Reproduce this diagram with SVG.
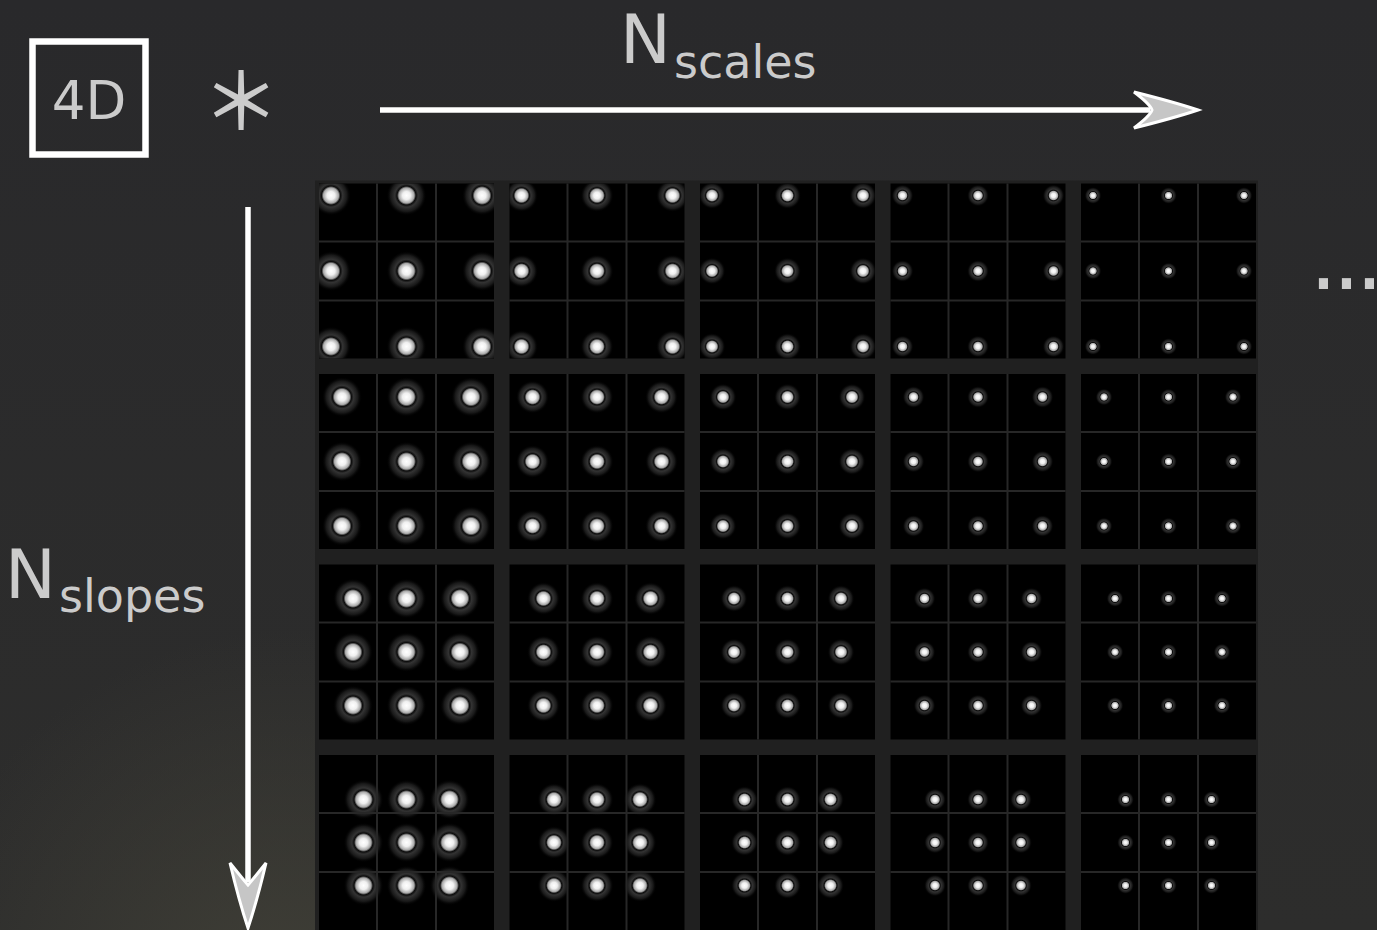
<svg xmlns="http://www.w3.org/2000/svg" width="1377" height="930" viewBox="0 0 1377 930">
<style>
.lbl{font-family:"DejaVu Sans","Liberation Sans",sans-serif;fill:#cbcbcb}
.ax{stroke:#ffffff;stroke-width:5.5;fill:none}
.ah{fill:#c6c6c6;stroke:#ffffff;stroke-width:3;stroke-linejoin:miter}
</style>
<defs>
<linearGradient id="bg" x1="0" y1="0" x2="0" y2="1">
<stop offset="0" stop-color="#29292b"/>
<stop offset="1" stop-color="#2d2d2c"/>
</linearGradient>
<radialGradient id="glow" cx="290" cy="1010" r="380" gradientUnits="userSpaceOnUse">
<stop offset="0" stop-color="#45443a" stop-opacity="0.8"/>
<stop offset="1" stop-color="#45443a" stop-opacity="0"/>
</radialGradient>
<radialGradient id="g1"><stop offset="0" stop-color="#fff"/><stop offset="0.2" stop-color="#f0f0f0"/><stop offset="0.38" stop-color="#a8a8a8"/><stop offset="0.47" stop-color="#0c0c0c"/><stop offset="0.58" stop-color="#333"/><stop offset="0.8" stop-color="#181818"/><stop offset="1" stop-color="#000" stop-opacity="0"/></radialGradient>
<radialGradient id="g2"><stop offset="0" stop-color="#fff"/><stop offset="0.165" stop-color="#f0f0f0"/><stop offset="0.3135" stop-color="#a8a8a8"/><stop offset="0.388" stop-color="#0c0c0c"/><stop offset="0.4785" stop-color="#333"/><stop offset="0.66" stop-color="#181818"/><stop offset="0.825" stop-color="#000" stop-opacity="0"/></radialGradient>
<radialGradient id="g3"><stop offset="0" stop-color="#fff"/><stop offset="0.135" stop-color="#f0f0f0"/><stop offset="0.2565" stop-color="#a8a8a8"/><stop offset="0.317" stop-color="#0c0c0c"/><stop offset="0.3915" stop-color="#333"/><stop offset="0.54" stop-color="#181818"/><stop offset="0.675" stop-color="#000" stop-opacity="0"/></radialGradient>
<radialGradient id="g4"><stop offset="0" stop-color="#fff"/><stop offset="0.11" stop-color="#f0f0f0"/><stop offset="0.209" stop-color="#a8a8a8"/><stop offset="0.2585" stop-color="#0c0c0c"/><stop offset="0.319" stop-color="#333"/><stop offset="0.44" stop-color="#181818"/><stop offset="0.55" stop-color="#000" stop-opacity="0"/></radialGradient>
<radialGradient id="g5"><stop offset="0" stop-color="#fff"/><stop offset="0.085" stop-color="#f0f0f0"/><stop offset="0.1615" stop-color="#a8a8a8"/><stop offset="0.2" stop-color="#0c0c0c"/><stop offset="0.2465" stop-color="#333"/><stop offset="0.34" stop-color="#181818"/><stop offset="0.425" stop-color="#000" stop-opacity="0"/></radialGradient>
<clipPath id="blocks">
<rect x="319" y="183.5" width="175" height="175"/><rect x="509.5" y="183.5" width="175" height="175"/><rect x="700" y="183.5" width="175" height="175"/><rect x="890.5" y="183.5" width="175" height="175"/><rect x="1081" y="183.5" width="175" height="175"/>
<rect x="319" y="374" width="175" height="175"/><rect x="509.5" y="374" width="175" height="175"/><rect x="700" y="374" width="175" height="175"/><rect x="890.5" y="374" width="175" height="175"/><rect x="1081" y="374" width="175" height="175"/>
<rect x="319" y="564.5" width="175" height="175"/><rect x="509.5" y="564.5" width="175" height="175"/><rect x="700" y="564.5" width="175" height="175"/><rect x="890.5" y="564.5" width="175" height="175"/><rect x="1081" y="564.5" width="175" height="175"/>
<rect x="319" y="755" width="175" height="175"/><rect x="509.5" y="755" width="175" height="175"/><rect x="700" y="755" width="175" height="175"/><rect x="890.5" y="755" width="175" height="175"/><rect x="1081" y="755" width="175" height="175"/>
</clipPath>
<g id="R1"><circle cx="-75.5" cy="-75.5" r="20"/><circle cx="0" cy="-75.5" r="20"/><circle cx="75.5" cy="-75.5" r="20"/><circle cx="-75.5" cy="0" r="20"/><circle cx="0" cy="0" r="20"/><circle cx="75.5" cy="0" r="20"/><circle cx="-75.5" cy="75.5" r="20"/><circle cx="0" cy="75.5" r="20"/><circle cx="75.5" cy="75.5" r="20"/></g>
<g id="R2"><circle cx="-64.5" cy="-64.5" r="20"/><circle cx="0" cy="-64.5" r="20"/><circle cx="64.5" cy="-64.5" r="20"/><circle cx="-64.5" cy="0" r="20"/><circle cx="0" cy="0" r="20"/><circle cx="64.5" cy="0" r="20"/><circle cx="-64.5" cy="64.5" r="20"/><circle cx="0" cy="64.5" r="20"/><circle cx="64.5" cy="64.5" r="20"/></g>
<g id="R3"><circle cx="-53.5" cy="-53.5" r="20"/><circle cx="0" cy="-53.5" r="20"/><circle cx="53.5" cy="-53.5" r="20"/><circle cx="-53.5" cy="0" r="20"/><circle cx="0" cy="0" r="20"/><circle cx="53.5" cy="0" r="20"/><circle cx="-53.5" cy="53.5" r="20"/><circle cx="0" cy="53.5" r="20"/><circle cx="53.5" cy="53.5" r="20"/></g>
<g id="R4"><circle cx="-43" cy="-43" r="20"/><circle cx="0" cy="-43" r="20"/><circle cx="43" cy="-43" r="20"/><circle cx="-43" cy="0" r="20"/><circle cx="0" cy="0" r="20"/><circle cx="43" cy="0" r="20"/><circle cx="-43" cy="43" r="20"/><circle cx="0" cy="43" r="20"/><circle cx="43" cy="43" r="20"/></g>
</defs>

<g id="background">
<rect x="0" y="0" width="1377" height="930" fill="url(#bg)"/>
<rect x="0" y="0" width="1377" height="930" fill="url(#glow)"/>
</g>

<g id="grid">
<rect x="315" y="180.5" width="943" height="760" fill="#202020"/>
<rect x="315" y="180.5" width="943" height="760" fill="#000" clip-path="url(#blocks)"/>
<g id="spots" clip-path="url(#blocks)">
<use href="#R1" x="406.5" y="271" fill="url(#g1)"/><use href="#R1" x="597" y="271" fill="url(#g2)"/><use href="#R1" x="787.5" y="271" fill="url(#g3)"/><use href="#R1" x="978" y="271" fill="url(#g4)"/><use href="#R1" x="1168.5" y="271" fill="url(#g5)"/>
<use href="#R2" x="406.5" y="461.5" fill="url(#g1)"/><use href="#R2" x="597" y="461.5" fill="url(#g2)"/><use href="#R2" x="787.5" y="461.5" fill="url(#g3)"/><use href="#R2" x="978" y="461.5" fill="url(#g4)"/><use href="#R2" x="1168.5" y="461.5" fill="url(#g5)"/>
<use href="#R3" x="406.5" y="652" fill="url(#g1)"/><use href="#R3" x="597" y="652" fill="url(#g2)"/><use href="#R3" x="787.5" y="652" fill="url(#g3)"/><use href="#R3" x="978" y="652" fill="url(#g4)"/><use href="#R3" x="1168.5" y="652" fill="url(#g5)"/>
<use href="#R4" x="406.5" y="842.5" fill="url(#g1)"/><use href="#R4" x="597" y="842.5" fill="url(#g2)"/><use href="#R4" x="787.5" y="842.5" fill="url(#g3)"/><use href="#R4" x="978" y="842.5" fill="url(#g4)"/><use href="#R4" x="1168.5" y="842.5" fill="url(#g5)"/>
</g>
<path clip-path="url(#blocks)" stroke="#272727" stroke-width="2" fill="none" d="M377 180V930M436 180V930M567.5 180V930M626.5 180V930M758 180V930M817 180V930M948.5 180V930M1007.5 180V930M1139 180V930M1198 180V930M315 241.5H1258M315 300.5H1258M315 432H1258M315 491H1258M315 622.5H1258M315 681.5H1258M315 813H1258M315 872H1258"/>
</g>

<g id="box-4d">
<rect x="32.5" y="41.5" width="113" height="113" fill="none" stroke="#ffffff" stroke-width="6.5"/>
<text class="lbl" x="89" y="119" font-size="53" text-anchor="middle">4D</text>
</g>

<g id="asterisk">
<text x="241" y="130" font-family="Noto Sans CJK JP,sans-serif" font-weight="500" font-size="78" fill="#cbcbcb" text-anchor="middle">＊</text>
</g>

<g id="label-scales">
<text class="lbl" x="620" y="63" font-size="68">N</text>
<text class="lbl" x="674" y="78" font-size="46">scales</text>
</g>

<g id="label-slopes">
<text class="lbl" x="5" y="598" font-size="68">N</text>
<text class="lbl" x="59" y="612" font-size="46">slopes</text>
</g>

<g id="ellipsis">
<text class="lbl" x="1309.5" y="289" font-size="88" letter-spacing="-5">...</text>
</g>

<g id="connectors">
<path class="ax" d="M380 110H1150"/>
<path class="ah" d="M1198 110C1180 104 1150 96 1134 92Q1150 104 1152 110Q1150 116 1134 128C1150 124 1180 116 1198 110Z"/>
<path class="ax" d="M248 207V882"/>
<path class="ah" d="M248 928C242 910 234 880 230 863Q242 878 248 885Q254 878 266 863C262 880 254 910 248 928Z"/>
</g>
</svg>
